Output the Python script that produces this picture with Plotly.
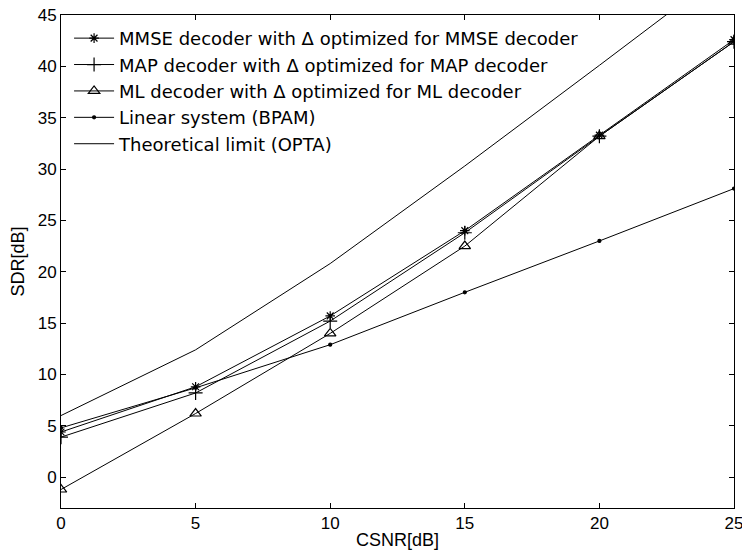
import plotly.graph_objects as go

csnr = [0, 5, 10, 15, 20, 25]
mmse = [4.4, 8.8, 15.7, 24.0, 33.3, 42.6]
map_dec = [3.9, 8.2, 15.2, 23.8, 33.2, 42.4]
ml_dec = [-1.2, 6.2, 14.0, 22.5, 33.2, 42.4]
bpam = [4.8, 8.7, 12.9, 18.0, 23.0, 28.1]
opta = [6.0, 12.4, 20.8, 30.3, 40.1, 50.0]

names = [
    "MMSE decoder with \u0394 optimized for MMSE decoder",
    "MAP decoder with \u0394 optimized for MAP decoder",
    "ML decoder with \u0394 optimized for ML decoder",
    "Linear system (BPAM)",
    "Theoretical limit (OPTA)",
]

fig = go.Figure()
series = [
    (mmse, "asterisk-open", 8),
    (map_dec, "cross-thin-open", 10),
    (ml_dec, "triangle-up-open", 10),
    (bpam, "circle", 3),
    (opta, None, 0),
]
for (ys, sym, sz), nm in zip(series, names):
    if sym:
        fig.add_trace(go.Scatter(
            x=csnr, y=ys, name=nm, mode="lines+markers",
            line=dict(color="black", width=1),
            marker=dict(symbol=sym, size=sz, color="black",
                        line=dict(color="black", width=1.2)),
        ))
    else:
        fig.add_trace(go.Scatter(
            x=csnr, y=ys, name=nm, mode="lines",
            line=dict(color="black", width=1),
        ))

FONT = "Liberation Sans, Arial"
axis_common = dict(
    showline=True, linecolor="black", linewidth=1, mirror="ticks",
    ticks="inside", ticklen=5, tickcolor="black", tickwidth=1,
    showgrid=False, zeroline=False, automargin=False,
    ticklabeloverflow="allow",
    tickfont=dict(family=FONT, size=17, color="black"),
)

fig.update_layout(
    width=742, height=552,
    margin=dict(l=61, r=8, t=15, b=44),
    paper_bgcolor="white", plot_bgcolor="white",
    font=dict(family=FONT, size=17, color="black"),
    xaxis=dict(range=[0, 25], tickvals=csnr, **axis_common,
               title=dict(text="CSNR[dB]", standoff=0,
                          font=dict(size=18))),
    yaxis=dict(range=[-3, 45], tickvals=list(range(0, 46, 5)), **axis_common,
               title=dict(text="SDR[dB]", standoff=8,
                          font=dict(size=18))),
    legend=dict(x=0.012, y=0.99, xanchor="left", yanchor="top",
                bgcolor="rgba(255,255,255,0)", borderwidth=0,
                font=dict(family="DejaVu Sans", size=18),
                tracegroupgap=0, itemwidth=40),
    showlegend=True,
)

fig.write_html("out.html")
